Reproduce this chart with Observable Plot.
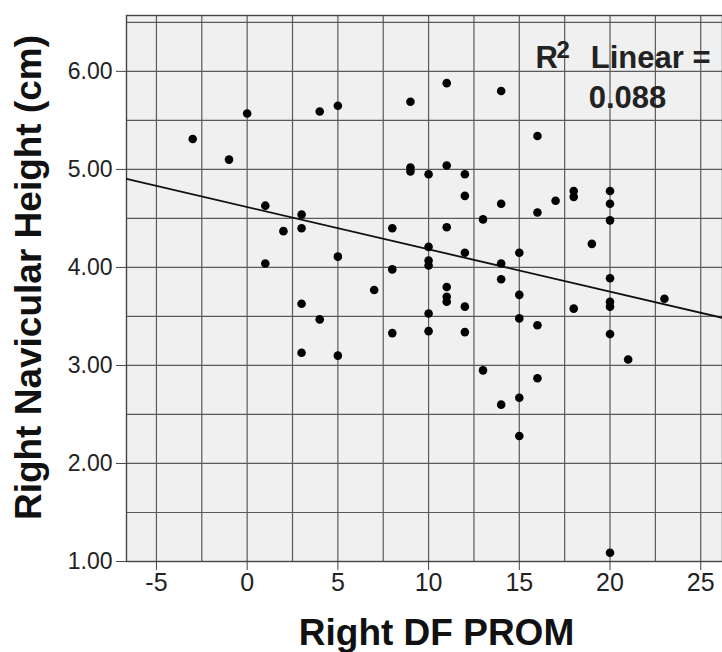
<!DOCTYPE html>
<html><head><meta charset="utf-8">
<script src="https://cdn.jsdelivr.net/npm/d3@7"></script>
<script src="https://cdn.jsdelivr.net/npm/@observablehq/plot@0.6"></script>
<style>body{margin:0;background:#fff;} #chart svg{display:block}</style>
</head><body><div id="chart"></div>
<script>
const dfProm = [-3,-1,0,4,5,9,9,9,1,3, 2,3,8,1,5,8,7,11,14,16, 10,11,12,12,14,13,16,17,18,18, 20,20,20,11,19,10,10,10,12,14, 15,14,15,11,11,11,20,23,10,10, 12,12,15,16,18,20,20,20,21,13, 16,15,14,15,20,3,4,3,5,8];
const navHeight = [5.31,5.10,5.57,5.59,5.65,5.69,5.02,4.98,4.63,4.54, 4.37,4.40,4.40,4.04,4.11,3.98,3.77,5.88,5.80,5.34, 4.95,5.04,4.95,4.73,4.65,4.49,4.56,4.68,4.78,4.72, 4.78,4.65,4.48,4.41,4.24,4.21,4.07,4.02,4.15,4.04, 4.15,3.88,3.72,3.80,3.70,3.65,3.89,3.68,3.53,3.35, 3.60,3.34,3.48,3.41,3.58,3.65,3.60,3.32,3.06,2.95, 2.87,2.67,2.60,2.28,1.09,3.63,3.47,3.13,3.10,3.33];
const xTicks = [-5,0,5,10,15,20,25];
const yTicks = [1,2,3,4,5,6];
const xGrid = [-5,-2.5,0,2.5,5,7.5,10,12.5,15,17.5,20,22.5,25];
const yGrid = [1,1.5,2,2.5,3,3.5,4,4.5,5,5.5,6,6.5];
const xDomain = [-6.65, 26.2];
const yDomain = [1, 6.57];
const r2Parts = ["R", "2", "Linear =", "0.088"];
const xTitle = "Right DF PROM";
const yTitle = "Right Navicular Height (cm)";

const pts = dfProm.map((x, i) => ({x, y: navHeight[i]}));
const mx = d3.mean(dfProm), my = d3.mean(navHeight);
const slope = d3.sum(pts, p => (p.x - mx) * (p.y - my)) / d3.sum(pts, p => (p.x - mx) ** 2);
const intercept = my - slope * mx;
const fitLine = xDomain.map(x => ({x, y: intercept + slope * x}));

const font = "'Liberation Sans', Arial, sans-serif";
const ann = {frameAnchor: "top-right", text: d => d, lineAnchor: "top", fontWeight: "bold", fill: "#222"};
const chart = Plot.plot({
  width: 722, height: 652,
  marginLeft: 126, marginRight: 0, marginTop: 15, marginBottom: 91,
  style: {fontFamily: font, color: "#222", background: "#fff"},
  x: {domain: xDomain},
  y: {domain: yDomain},
  marks: [
    Plot.frame({fill: "#f0f0f0", stroke: null}),
    Plot.ruleX(xGrid, {stroke: "#5a5a5a", strokeWidth: 1.2}),
    Plot.ruleY(yGrid, {stroke: "#5a5a5a", strokeWidth: 1.2}),
    Plot.frame({stroke: "#444", strokeWidth: 1.4}),
    Plot.axisY({ticks: yTicks, tickFormat: d => d.toFixed(2), tickSize: 10, tickPadding: 4, fontSize: 23, label: null, stroke: "#444"}),
    Plot.axisX({ticks: xTicks, tickFormat: d => String(d), tickSize: 9, tickPadding: 3, fontSize: 25, label: null, stroke: "#444"}),
    Plot.line(fitLine, {x: "x", y: "y", stroke: "#111", strokeWidth: 1.8, clip: true}),
    Plot.dot(pts, {x: "x", y: "y", r: 4.3, fill: "#000", stroke: null}),
    Plot.text([r2Parts[0]], {...ann, dx: -187, dy: 30, textAnchor: "start", fontSize: 31}),
    Plot.text([r2Parts[1]], {...ann, dx: -166, dy: 25, textAnchor: "start", fontSize: 24}),
    Plot.text([r2Parts[2]], {...ann, dx: -12, dy: 30, textAnchor: "end", fontSize: 31}),
    Plot.text([r2Parts[3]], {...ann, dx: -95, dy: 70, textAnchor: "middle", fontSize: 31}),
    Plot.text([xTitle], {frameAnchor: "bottom", text: d => d, dx: 12, dy: 72, textAnchor: "middle", lineAnchor: "middle", fontSize: 37, fontWeight: "bold", fill: "#111"}),
    Plot.text([yTitle], {frameAnchor: "left", text: d => d, dx: -97, dy: -11, rotate: -90, textAnchor: "middle", lineAnchor: "middle", fontSize: 37, fontWeight: "bold", fill: "#111"})
  ]
});
document.getElementById("chart").append(chart);
</script>
</body></html>
